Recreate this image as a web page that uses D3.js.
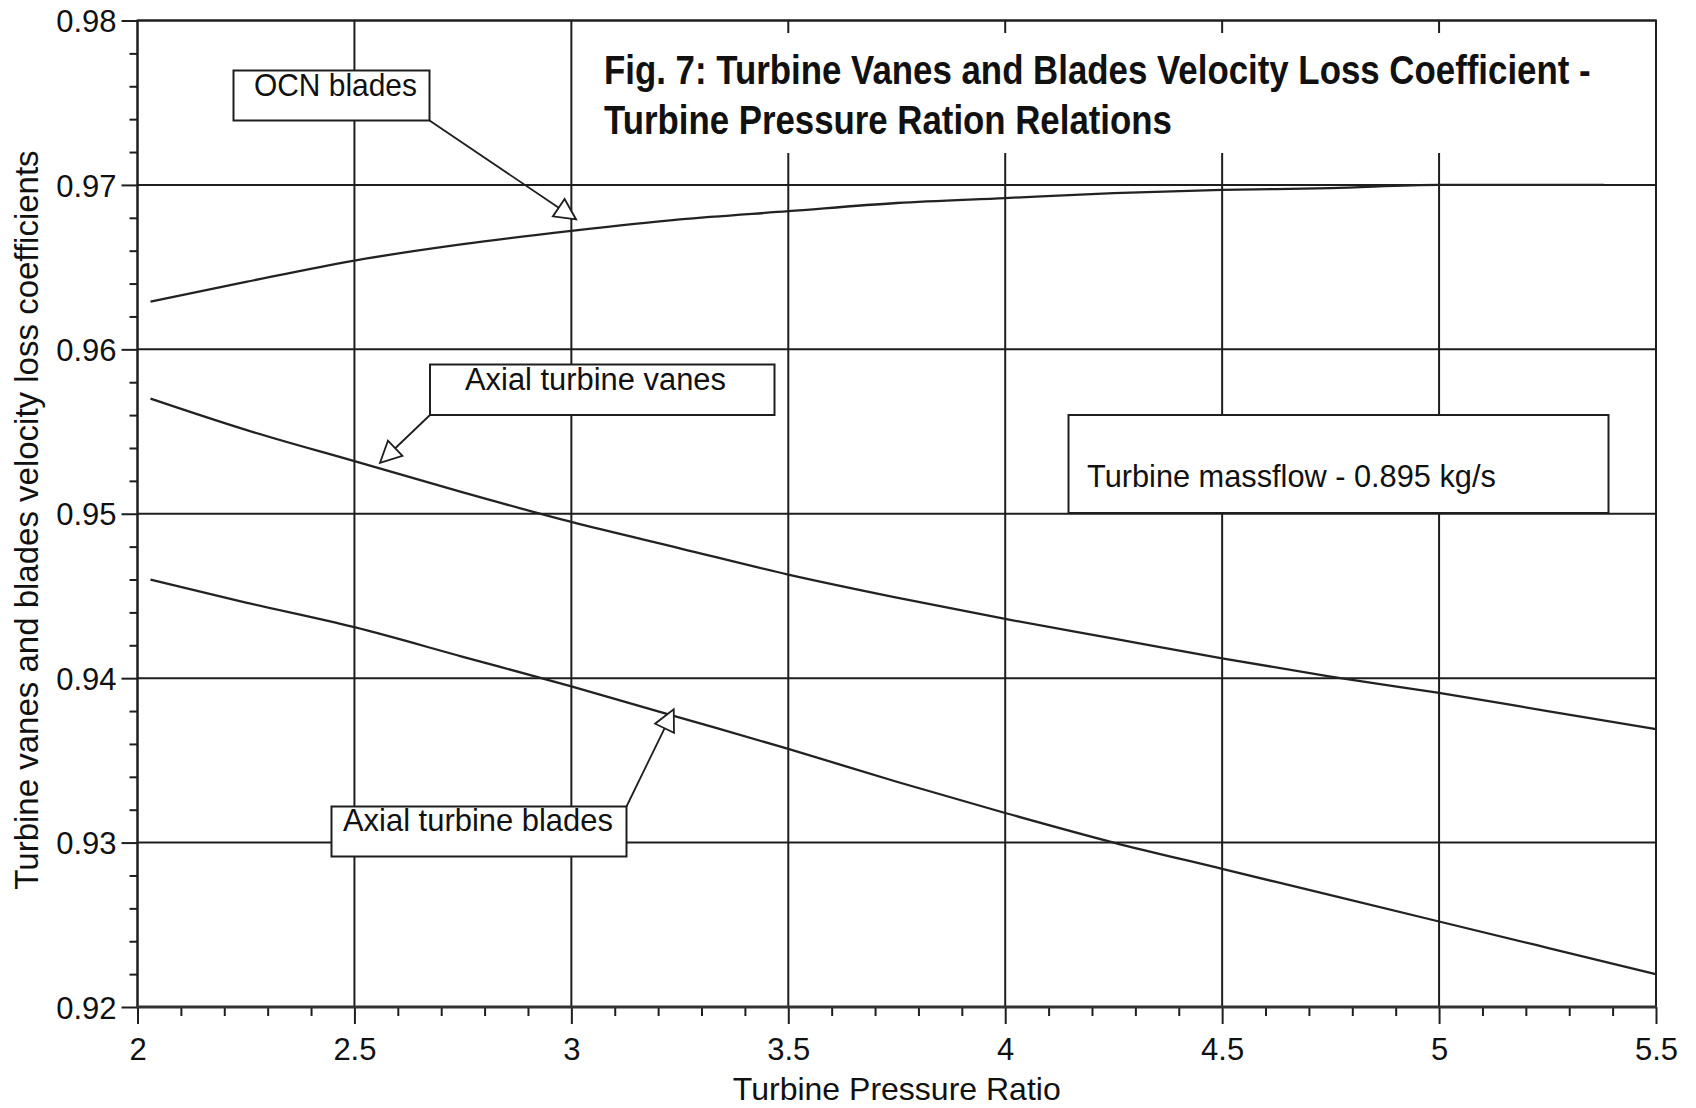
<!DOCTYPE html>
<html>
<head>
<meta charset="utf-8">
<script src="https://cdn.jsdelivr.net/npm/d3@7"></script>
<style>
  body { margin: 0; background: #fff; }
  svg { display: block; }
  text { font-family: "Liberation Sans", Arial, sans-serif; fill: #111; }
</style>
</head>
<body>
<svg id="chart" width="1696" height="1108"></svg>
<script>
// Turbine pressure ratio samples and velocity loss coefficients
const ocnRatio  = [2.03, 2.25, 2.5, 2.75, 3, 3.25, 3.5, 3.75, 4, 4.25, 4.5, 4.75, 5, 5.2, 5.38];
const ocnBlades = [0.9629, 0.9641, 0.9654, 0.9664, 0.9672, 0.9679, 0.9684, 0.9689, 0.9692, 0.9695, 0.9697, 0.9698, 0.9700, 0.9700, 0.9700];

const axialRatio  = [2.03, 2.25, 2.5, 2.75, 3, 3.25, 3.5, 3.75, 4, 4.25, 4.5, 4.75, 5, 5.25, 5.5];
const axialVanes  = [0.9570, 0.9551, 0.9532, 0.9513, 0.9495, 0.9479, 0.9463, 0.9449, 0.9436, 0.9424, 0.9412, 0.9401, 0.9391, 0.9380, 0.9369];
const axialBlades = [0.9460, 0.9446, 0.9431, 0.9413, 0.9395, 0.9376, 0.9357, 0.9337, 0.9318, 0.9300, 0.9284, 0.9268, 0.9252, 0.9236, 0.9220];

const xTicks = [2, 2.5, 3, 3.5, 4, 4.5, 5, 5.5];
const xTickLabels = ["2", "2.5", "3", "3.5", "4", "4.5", "5", "5.5"];
const yTicks = [0.92, 0.93, 0.94, 0.95, 0.96, 0.97, 0.98];
const yTickLabels = ["0.92", "0.93", "0.94", "0.95", "0.96", "0.97", "0.98"];

const titleLines = ["Fig. 7: Turbine Vanes and Blades Velocity Loss Coefficient -",
                    "Turbine Pressure Ration Relations"];
const xAxisTitle = "Turbine Pressure Ratio";
const yAxisTitle = "Turbine vanes and blades velocity loss coefficients";
const noteText = "Turbine massflow - 0.895 kg/s";

// Callout labels and the curve point each arrow points at
const calloutLabels = ["OCN blades", "Axial turbine vanes", "Axial turbine blades"];
const calloutX = [3.011, 2.559, 3.236];
const calloutY = [0.9679, 0.9531, 0.9381];

// ---- layout ----
const svg = d3.select("#chart");
const plot = { left: 137.5, right: 1656, top: 20.5, bottom: 1007 };
const x = d3.scaleLinear().domain([2, 5.5]).range([plot.left, plot.right]);
const y = d3.scaleLinear().domain([0.92, 0.98]).range([plot.bottom, plot.top]);
const ink = "#1e1e1e";

// Places a text at (px, py) and squeezes it horizontally to the given width
function fitText(sel, px, py, width) {
  const natural = sel.node().getComputedTextLength();
  const sx = Math.min(1.2, width / natural);
  sel.attr("transform", `translate(${px},${py}) scale(${sx},1)`);
  return sel;
}

// grid
const grid = svg.append("g");
grid.selectAll("line.v").data(xTicks).join("line")
  .attr("x1", d => x(d)).attr("x2", d => x(d))
  .attr("y1", plot.top).attr("y2", plot.bottom)
  .attr("stroke", ink).attr("stroke-width", 2);
grid.selectAll("line.h").data(yTicks).join("line")
  .attr("x1", plot.left).attr("x2", plot.right)
  .attr("y1", d => y(d)).attr("y2", d => y(d))
  .attr("stroke", ink).attr("stroke-width", 2);

// axes with major and minor ticks
const xMinor = d3.range(2, 5.5001, 0.1).filter(v => Math.abs(v * 2 - Math.round(v * 2)) > 1e-6);
const yMinor = d3.range(0.92, 0.98001, 0.002).filter(v => Math.abs(v * 100 - Math.round(v * 100)) > 1e-6);

const xAxisMinor = d3.axisBottom(x).tickValues(xMinor).tickSize(9).tickFormat("");
const xAxisMajor = d3.axisBottom(x).tickValues(xTicks).tickSize(17)
  .tickFormat((d, i) => xTickLabels[i]).tickPadding(14);
const yAxisMinor = d3.axisLeft(y).tickValues(yMinor).tickSize(8).tickFormat("");
const yAxisMajor = d3.axisLeft(y).tickValues(yTicks).tickSize(16)
  .tickFormat((d, i) => yTickLabels[i]).tickPadding(5);

function styleAxis(g) {
  g.select(".domain").remove();
  g.selectAll(".tick line").attr("stroke", ink).attr("stroke-width", 2);
  g.selectAll(".tick text").attr("fill", "#111").style("font-size", "31px")
    .style("font-family", '"Liberation Sans", Arial, sans-serif');
}
svg.append("g").attr("transform", `translate(0,${plot.bottom})`).call(xAxisMinor).call(styleAxis);
svg.append("g").attr("transform", `translate(0,${plot.bottom})`).call(xAxisMajor).call(styleAxis)
  .selectAll(".tick text").attr("dy", "0.71em");
svg.append("g").attr("transform", `translate(${plot.left},0)`).call(yAxisMinor).call(styleAxis);
svg.append("g").attr("transform", `translate(${plot.left},0)`).call(yAxisMajor).call(styleAxis)
  .selectAll(".tick text").attr("dy", "0.36em");

// frame
svg.append("rect").attr("x", plot.left).attr("y", plot.top)
  .attr("width", plot.right - plot.left).attr("height", plot.bottom - plot.top)
  .attr("fill", "none").attr("stroke", ink).attr("stroke-width", 2);
svg.append("line").attr("x1", plot.left - 1).attr("x2", plot.right + 1)
  .attr("y1", plot.bottom).attr("y2", plot.bottom)
  .attr("stroke", "#333").attr("stroke-width", 3.2);

// title block sits on a white panel over the grid
svg.append("rect").attr("x", 592).attr("y", 33).attr("width", 1045).attr("height", 120).attr("fill", "#fff");
const titleY = [84, 134];
const titleW = [987, 568];
svg.selectAll("text.title").data(titleLines).join("text")
  .attr("class", "title")
  .style("font-size", "40px").style("font-weight", "bold")
  .text(d => d)
  .each(function (d, i) { fitText(d3.select(this), 604, titleY[i], titleW[i]); });

// series lines
const line = d3.line().curve(d3.curveMonotoneX).x(d => x(d[0])).y(d => y(d[1]));
const series = [
  d3.zip(ocnRatio, ocnBlades),
  d3.zip(axialRatio, axialVanes),
  d3.zip(axialRatio, axialBlades)
];
svg.append("g").selectAll("path").data(series).join("path")
  .attr("d", line).attr("fill", "none")
  .attr("stroke", "#222").attr("stroke-width", 2.3);

// callout boxes: [left, top, right, bottom], text origin, width, and the corner the arrow leaves from
const boxes = [
  { r: [233.5, 70.5, 429.5, 120.5], tx: 254, ty: 96, tw: 163, corner: [429.5, 120.5] },
  { r: [430, 364.5, 774.5, 415], tx: 465, ty: 390, tw: 261, corner: [430, 415] },
  { r: [331.5, 806.5, 626.5, 856.5], tx: 343, ty: 831, tw: 270, corner: [626.5, 806.5] }
];
const callouts = svg.append("g");
calloutLabels.forEach((label, i) => {
  const b = boxes[i];
  const tip = [x(calloutX[i]), y(calloutY[i])];
  const dx = tip[0] - b.corner[0], dy = tip[1] - b.corner[1];
  const len = Math.hypot(dx, dy);
  const ux = dx / len, uy = dy / len;
  const head = 21, half = 10.5;
  const base = [tip[0] - ux * head, tip[1] - uy * head];
  callouts.append("line")
    .attr("x1", b.corner[0]).attr("y1", b.corner[1])
    .attr("x2", base[0]).attr("y2", base[1])
    .attr("stroke", ink).attr("stroke-width", 1.8);
  callouts.append("path")
    .attr("d", `M${tip[0]},${tip[1]}L${base[0] - uy * half},${base[1] + ux * half}L${base[0] + uy * half},${base[1] - ux * half}Z`)
    .attr("fill", "#fff").attr("stroke", ink).attr("stroke-width", 1.8);
  callouts.append("rect")
    .attr("x", b.r[0]).attr("y", b.r[1])
    .attr("width", b.r[2] - b.r[0]).attr("height", b.r[3] - b.r[1])
    .attr("fill", "#fff").attr("stroke", ink).attr("stroke-width", 2);
  const t = callouts.append("text").style("font-size", "31px").text(label);
  fitText(t, b.tx, b.ty, b.tw);
});

// mass-flow note
svg.append("rect").attr("x", 1068.5).attr("y", 415).attr("width", 540).attr("height", 98)
  .attr("fill", "#fff").attr("stroke", ink).attr("stroke-width", 2);
fitText(svg.append("text").style("font-size", "31px").text(noteText), 1087, 487, 409);

// axis titles
svg.append("text").attr("x", x(3.75)).attr("y", 1100)
  .attr("text-anchor", "middle").style("font-size", "32px").text(xAxisTitle);
svg.append("text").attr("transform", "translate(38,520) rotate(-90)")
  .attr("text-anchor", "middle").style("font-size", "33px").text(yAxisTitle);
</script>
</body>
</html>
